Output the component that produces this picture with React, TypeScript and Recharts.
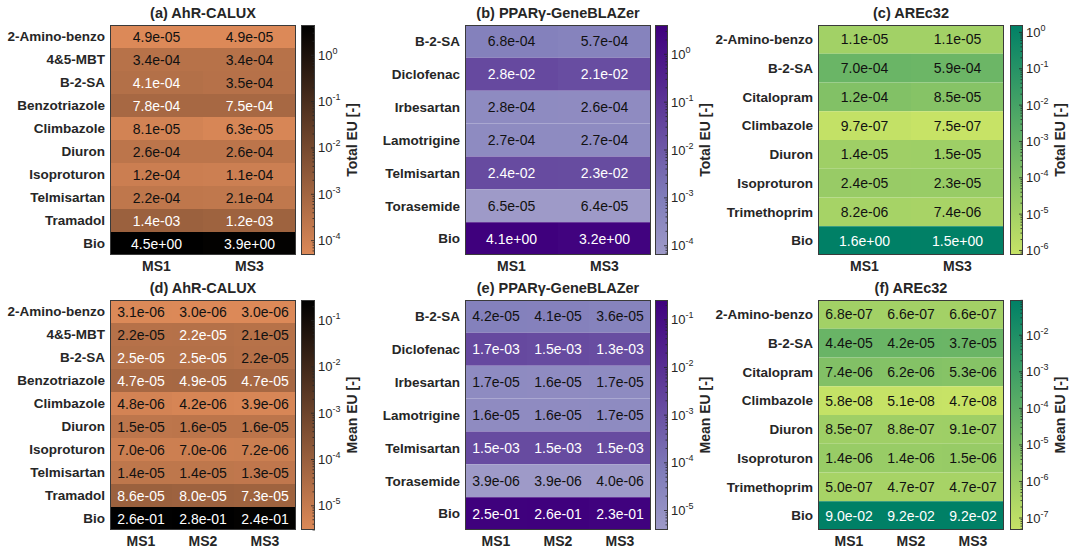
import React from "react";
import { BarChart, Bar, XAxis, YAxis, Cell, LabelList } from "recharts";

const FONT = '"Liberation Sans", Arial, Helvetica, sans-serif';
const INK = "#262626";

// ---- AhR-CALUX ----
const ahrRows = ["2-Amino-benzo", "4&5-MBT", "B-2-SA", "Benzotriazole", "Climbazole", "Diuron", "Isoproturon", "Telmisartan", "Tramadol", "Bio"];
const ahrTotalMS1 = [4.9e-5, 3.4e-4, 4.1e-4, 7.8e-4, 8.1e-5, 2.6e-4, 1.2e-4, 2.2e-4, 1.4e-3, 4.5];
const ahrTotalMS3 = [4.9e-5, 3.4e-4, 3.5e-4, 7.5e-4, 6.3e-5, 2.6e-4, 1.1e-4, 2.1e-4, 1.2e-3, 3.9];
const ahrMeanMS1 = [3.1e-6, 2.2e-5, 2.5e-5, 4.7e-5, 4.8e-6, 1.5e-5, 7.0e-6, 1.4e-5, 8.6e-5, 2.6e-1];
const ahrMeanMS2 = [3.0e-6, 2.24e-5, 2.5e-5, 4.9e-5, 4.2e-6, 1.6e-5, 7.0e-6, 1.4e-5, 8.0e-5, 2.8e-1];
const ahrMeanMS3 = [3.0e-6, 2.1e-5, 2.2e-5, 4.7e-5, 3.9e-6, 1.6e-5, 7.2e-6, 1.3e-5, 7.3e-5, 2.4e-1];

// ---- PPARγ-GeneBLAZer ----
const pparRows = ["B-2-SA", "Diclofenac", "Irbesartan", "Lamotrigine", "Telmisartan", "Torasemide", "Bio"];
const pparTotalMS1 = [6.8e-4, 2.8e-2, 2.8e-4, 2.7e-4, 2.4e-2, 6.5e-5, 4.1];
const pparTotalMS3 = [5.7e-4, 2.1e-2, 2.6e-4, 2.7e-4, 2.3e-2, 6.4e-5, 3.2];
const pparMeanMS1 = [4.2e-5, 1.7e-3, 1.7e-5, 1.6e-5, 1.5e-3, 3.9e-6, 2.5e-1];
const pparMeanMS2 = [4.1e-5, 1.5e-3, 1.6e-5, 1.6e-5, 1.5e-3, 3.9e-6, 2.6e-1];
const pparMeanMS3 = [3.6e-5, 1.3e-3, 1.7e-5, 1.7e-5, 1.5e-3, 4.0e-6, 2.3e-1];

// ---- AREc32 ----
const areRows = ["2-Amino-benzo", "B-2-SA", "Citalopram", "Climbazole", "Diuron", "Isoproturon", "Trimethoprim", "Bio"];
const areTotalMS1 = [1.1e-5, 7.0e-4, 1.2e-4, 9.7e-7, 1.4e-5, 2.4e-5, 8.2e-6, 1.6];
const areTotalMS3 = [1.1e-5, 5.9e-4, 8.5e-5, 7.5e-7, 1.5e-5, 2.3e-5, 7.4e-6, 1.5];
const areMeanMS1 = [6.8e-7, 4.4e-5, 7.4e-6, 5.8e-8, 8.5e-7, 1.4e-6, 5.0e-7, 9.0e-2];
const areMeanMS2 = [6.6e-7, 4.2e-5, 6.2e-6, 5.1e-8, 8.8e-7, 1.4e-6, 4.7e-7, 9.2e-2];
const areMeanMS3 = [6.6e-7, 3.7e-5, 5.3e-6, 4.7e-8, 9.1e-7, 1.5e-6, 4.7e-7, 9.2e-2];

const totalCols = ["MS1", "MS3"];
const meanCols = ["MS1", "MS2", "MS3"];

// colorbar decade labels (10^k)
const ahrTotalDecades = [-4, -3, -2, -1, 0];
const ahrMeanDecades = [-5, -4, -3, -2, -1];
const pparTotalDecades = [-4, -3, -2, -1, 0];
const pparMeanDecades = [-5, -4, -3, -2, -1];
const areTotalDecades = [-6, -5, -4, -3, -2, -1, 0];
const areMeanDecades = [-7, -6, -5, -4, -3, -2];

type Cmap = { stops: number[][]; cut: number };
const copper: Cmap = { stops: [[220, 137, 88], [0, 0, 0]], cut: 0.175 };
const purples: Cmap = { stops: [[158, 154, 200], [128, 125, 186], [106, 81, 163], [84, 39, 143], [63, 0, 125]], cut: 0.4 };
const summer: Cmap = { stops: [[199, 227, 102], [0, 128, 102]], cut: 0.7 };

function colorAt(stops: number[][], t: number) {
  const k = stops.length - 1;
  const p = Math.min(Math.max(t, 0), 1) * k;
  const i = Math.min(Math.floor(p), k - 1);
  const f = p - i;
  const c = stops[i].map((a, j) => Math.round(a + (stops[i + 1][j] - a) * f));
  return `rgb(${c.join(",")})`;
}

function fmt(v: number) {
  const [m, e] = v.toExponential(1).split("e");
  const n = parseInt(e, 10);
  return `${m}e${n < 0 ? "-" : "+"}${String(Math.abs(n)).padStart(2, "0")}`;
}

function CbTick(props: any) {
  const { x, y, payload, majors } = props;
  const lv = Math.log10(payload.value);
  const e = Math.round(lv);
  const major = Math.abs(lv - e) < 1e-6 && majors.includes(e);
  return (
    <g>
      <line x1={x - (major ? 4 : 2.5)} x2={x} y1={y} y2={y} stroke={INK} strokeWidth={0.8} />
      {major && (
        <text x={x + 3} y={y + 4.5} fill={INK} fontSize={13} fontFamily={FONT}>
          10
          <tspan dy={-6} fontSize={9}>
            {e}
          </tspan>
        </text>
      )}
    </g>
  );
}

const YW = 110;
const MT = 25;
const XH = 24;
const CBPAD = 12;

type PanelProps = {
  id: string;
  x: number;
  y: number;
  w: number;
  h: number;
  cbX: number;
  cbW: number;
  title: string;
  rows: string[];
  cols: string[];
  series: number[][];
  cmap: Cmap;
  decades: number[];
  cbLabel: string;
};

function Panel(p: PanelProps) {
  const all = p.series.flat();
  const lo = Math.min(...all);
  const hi = Math.max(...all);
  const L0 = Math.log10(lo);
  const L1 = Math.log10(hi);
  const tOf = (v: number) => (Math.log10(v) - L0) / (L1 - L0);
  const n = p.rows.length;
  const data = p.cols.map((c) => {
    const d: Record<string, any> = { ms: c };
    p.rows.forEach((_, i) => (d["r" + i] = 1));
    return d;
  });
  const yTicks = p.rows.map((_, i) => i + 0.5);

  const cbTicks: number[] = [];
  for (let d = Math.floor(L0); d <= Math.ceil(L1); d++) {
    for (let m = 1; m <= 9; m++) {
      const v = m * Math.pow(10, d);
      if (v >= lo && v <= hi) cbTicks.push(v);
    }
  }
  const gid = "grad-" + p.id;
  const k = p.cmap.stops.length - 1;

  return (
    <>
      <div
        style={{
          position: "absolute",
          left: p.x - 40,
          top: p.y - 21,
          width: p.w + 80,
          textAlign: "center",
          font: `bold 14.5px ${FONT}`,
          color: INK,
          lineHeight: "18px",
          whiteSpace: "nowrap",
        }}
      >
        {p.title}
      </div>
      <div style={{ position: "absolute", left: p.x - YW, top: p.y - MT }}>
        <BarChart
          width={YW + p.w + 2}
          height={MT + p.h + XH}
          data={data}
          margin={{ top: MT, right: 2, bottom: 0, left: 0 }}
          barCategoryGap={0}
          barGap={0}
        >
          <XAxis
            dataKey="ms"
            height={XH}
            axisLine={false}
            tickLine={false}
            tickSize={0}
            tickMargin={6}
            interval={0}
            tick={{ fill: INK, fontSize: 14, fontWeight: "bold", fontFamily: FONT }}
          />
          <YAxis
            type="number"
            domain={[0, n]}
            reversed
            ticks={yTicks}
            interval={0}
            width={YW}
            axisLine={false}
            tickLine={false}
            tickSize={0}
            tickMargin={5}
            tickFormatter={(v: number) => p.rows[Math.floor(v)]}
            tick={{ fill: INK, fontSize: 13.5, fontWeight: "bold", fontFamily: FONT }}
          />
          {p.rows.map((r, i) => (
            <Bar key={r} dataKey={"r" + i} stackId="s" isAnimationActive={false}>
              {p.cols.map((c, j) => (
                <Cell key={c} fill={colorAt(p.cmap.stops, tOf(p.series[j][i]))} />
              ))}
              <LabelList
                dataKey={"r" + i}
                content={(lp: any) => {
                  const vb = lp.viewBox ?? lp;
                  const bx = vb.x ?? lp.x;
                  const by = vb.y ?? lp.y;
                  const bw = vb.width ?? lp.width;
                  const bh = vb.height ?? lp.height;
                  const v = p.series[lp.index][i];
                  const white = tOf(v) > p.cmap.cut;
                  return (
                    <text
                      x={bx + bw / 2}
                      y={by + bh / 2}
                      dy="0.36em"
                      textAnchor="middle"
                      fill={white ? "#ffffff" : "#111111"}
                      fontSize={14}
                      fontFamily={FONT}
                    >
                      {fmt(v)}
                    </text>
                  );
                }}
              />
            </Bar>
          ))}
        </BarChart>
      </div>
      <div
        style={{
          position: "absolute",
          left: p.x,
          top: p.y,
          width: p.w,
          height: p.h,
          border: "1px solid #3a3a3a",
          boxSizing: "border-box",
          pointerEvents: "none",
        }}
      />
      <div style={{ position: "absolute", left: p.cbX, top: p.y - CBPAD }}>
        <BarChart
          width={p.cbW + 44}
          height={p.h + 2 * CBPAD}
          data={[{ k: "cb", v: hi }]}
          margin={{ top: CBPAD, right: 0, bottom: CBPAD, left: 0 }}
          barCategoryGap={0}
          barGap={0}
        >
          <defs>
            <linearGradient id={gid} x1="0" y1="1" x2="0" y2="0">
              {p.cmap.stops.map((c, i) => (
                <stop key={i} offset={i / k} stopColor={`rgb(${c.join(",")})`} />
              ))}
            </linearGradient>
          </defs>
          <XAxis dataKey="k" hide />
          <YAxis
            orientation="right"
            type="number"
            scale="log"
            domain={[lo, hi]}
            ticks={cbTicks}
            interval={0}
            width={44}
            axisLine={false}
            tickLine={false}
            tickSize={0}
            tickMargin={0}
            tick={<CbTick majors={p.decades} />}
          />
          <Bar dataKey="v" fill={`url(#${gid})`} isAnimationActive={false} />
        </BarChart>
      </div>
      <div
        style={{
          position: "absolute",
          left: p.cbX,
          top: p.y,
          width: p.cbW,
          height: p.h,
          border: "1px solid #3a3a3a",
          boxSizing: "border-box",
          pointerEvents: "none",
        }}
      />
      <div
        style={{
          position: "absolute",
          left: p.cbX + p.cbW + 39 - 80,
          top: p.y + p.h / 2 - 10,
          width: 160,
          height: 20,
          lineHeight: "20px",
          textAlign: "center",
          font: `bold 14px ${FONT}`,
          color: INK,
          transform: "rotate(-90deg)",
          whiteSpace: "nowrap",
        }}
      >
        {p.cbLabel}
      </div>
    </>
  );
}

export default function App() {
  const top = 25;
  const bottom = 300;
  const h = 230;
  const w = 186;
  return (
    <div
      style={{
        position: "absolute",
        left: 0,
        top: 0,
        width: 1075,
        height: 551,
        background: "#ffffff",
        overflow: "hidden",
        fontFamily: FONT,
      }}
    >
      <Panel id="a" x={110} y={top} w={w} h={h} cbX={301} cbW={14} title="(a) AhR-CALUX" rows={ahrRows} cols={totalCols}
        series={[ahrTotalMS1, ahrTotalMS3]} cmap={copper} decades={ahrTotalDecades} cbLabel="Total EU [-]" />
      <Panel id="b" x={465} y={top} w={w} h={h} cbX={655} cbW={13} title="(b) PPARγ-GeneBLAZer" rows={pparRows} cols={totalCols}
        series={[pparTotalMS1, pparTotalMS3]} cmap={purples} decades={pparTotalDecades} cbLabel="Total EU [-]" />
      <Panel id="c" x={818} y={top} w={w} h={h} cbX={1010} cbW={13} title="(c) AREc32" rows={areRows} cols={totalCols}
        series={[areTotalMS1, areTotalMS3]} cmap={summer} decades={areTotalDecades} cbLabel="Total EU [-]" />
      <Panel id="d" x={110} y={bottom} w={w} h={h} cbX={301} cbW={14} title="(d) AhR-CALUX" rows={ahrRows} cols={meanCols}
        series={[ahrMeanMS1, ahrMeanMS2, ahrMeanMS3]} cmap={copper} decades={ahrMeanDecades} cbLabel="Mean EU [-]" />
      <Panel id="e" x={465} y={bottom} w={w} h={h} cbX={655} cbW={13} title="(e) PPARγ-GeneBLAZer" rows={pparRows} cols={meanCols}
        series={[pparMeanMS1, pparMeanMS2, pparMeanMS3]} cmap={purples} decades={pparMeanDecades} cbLabel="Mean EU [-]" />
      <Panel id="f" x={818} y={bottom} w={w} h={h} cbX={1010} cbW={13} title="(f) AREc32" rows={areRows} cols={meanCols}
        series={[areMeanMS1, areMeanMS2, areMeanMS3]} cmap={summer} decades={areMeanDecades} cbLabel="Mean EU [-]" />
    </div>
  );
}
